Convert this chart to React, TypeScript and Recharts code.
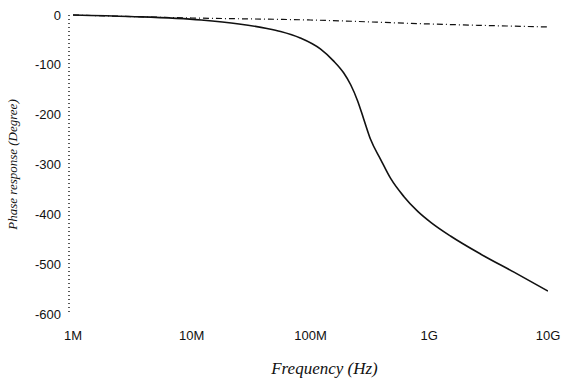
import { Label, Line, LineChart, XAxis, YAxis } from "recharts";

// frequency (Hz) and phase (degree)
const mainFreq = [
  1e6, 3e6, 1.2e7, 2.5e7, 4.3e7, 5.6e7, 8.2e7, 1.21e8, 1.56e8, 1.9e8, 2.18e8,
  2.49e8, 2.8e8, 3.21e8, 3.9e8, 4.73e8, 6.1e8, 8e8, 1.03e9, 1.52e9, 2.72e9,
  5.17e9, 1e10,
];
const mainPhase = [
  0, -3, -10, -18, -27, -33, -46, -68, -92, -116, -140, -172, -208, -250,
  -290, -328, -364, -394, -416, -444, -480, -516, -554,
];

const refFreq = [1e6, 1e7, 1e8, 1e9, 1e10];
const refPhase = [0, -6, -10, -18, -24];

const xTicks = [1e6, 1e7, 1e8, 1e9, 1e10];
const xTickLabels = ["1M", "10M", "100M", "1G", "10G"];
const yTicks = [0, -100, -200, -300, -400, -500, -600];

const mainData = mainFreq.map((f, i) => ({ f, phase: mainPhase[i] }));
const refData = refFreq.map((f, i) => ({ f, phase: refPhase[i] }));

const tickStyle = { fontFamily: "Arial, 'Liberation Sans', sans-serif", fontSize: 13, fill: "#111" };

export default function App() {
  return (
    <div style={{ position: "absolute", left: 0, top: 0, width: 562, height: 380, background: "#fff" }}>
      <LineChart width={562} height={380} margin={{ top: 15, right: 14, bottom: 0, left: 0 }}>
        <XAxis
          dataKey="f"
          type="number"
          scale="log"
          domain={[1e6, 1e10]}
          ticks={xTicks}
          tickFormatter={(v: number) => xTickLabels[xTicks.indexOf(v)] ?? ""}
          axisLine={false}
          tickLine={false}
          tickMargin={11}
          tick={tickStyle}
          height={66}
          padding={{ left: 4 }}
          allowDataOverflow
        >
          <Label
            value="Frequency (Hz)"
            position="insideBottom"
            offset={6}
            dx={16}
            style={{ fontFamily: "'Liberation Serif', 'DejaVu Serif', serif", fontStyle: "italic", fontSize: 17, fill: "#111" }}
          />
        </XAxis>
        <YAxis
          type="number"
          domain={[-600, 0]}
          ticks={yTicks}
          width={69}
          tickLine={false}
          axisLine={{ stroke: "#222", strokeDasharray: "1 3", strokeWidth: 1.5 }}
          tick={tickStyle}
        >
          <Label
            value="Phase response (Degree)"
            angle={-90}
            position="insideLeft"
            offset={12}
            style={{ textAnchor: "middle", fontFamily: "'Liberation Serif', 'DejaVu Serif', serif", fontStyle: "italic", fontSize: 13, fill: "#111" }}
          />
        </YAxis>
        <Line
          data={refData}
          dataKey="phase"
          type="monotone"
          stroke="#111"
          strokeWidth={1.2}
          strokeDasharray="6 3 1 3"
          dot={false}
          isAnimationActive={false}
        />
        <Line
          data={mainData}
          dataKey="phase"
          type="monotone"
          stroke="#111"
          strokeWidth={1.6}
          dot={false}
          isAnimationActive={false}
        />
      </LineChart>
    </div>
  );
}
